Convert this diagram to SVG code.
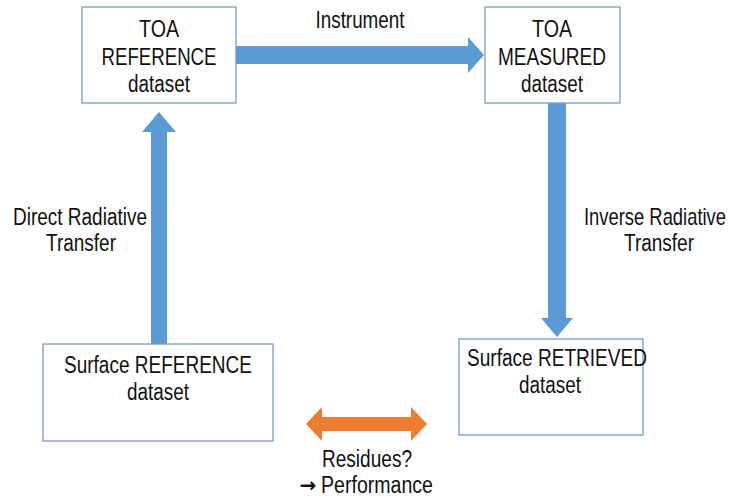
<svg xmlns="http://www.w3.org/2000/svg" width="735" height="498" viewBox="0 0 735 498">
  <style>
    .box { fill: #ffffff; stroke: #7f9cc4; stroke-width: 1.3; }
    .blue { fill: #5b9bd5; }
    .orange { fill: #ed7d31; }
    text { font-family: "Liberation Sans", Arial, sans-serif; font-size: 23px; fill: #111111; text-anchor: middle; }
    .sym { font-family: "DejaVu Sans", sans-serif; font-size: 20px; font-weight: bold; }
  </style>
  <rect width="735" height="498" fill="#ffffff"/>

  <!-- connectors -->
  <g id="connectors">
    <!-- Instrument: TOA reference to TOA measured -->
    <polygon class="blue" points="236,46 468,46 468,37 484,55 468,73 468,64 236,64"/>
    <!-- Direct radiative transfer: surface reference up to TOA reference -->
    <polygon class="blue" points="151,344 151,132 142,132 159,112 176,132 167,132 167,344"/>
    <!-- Inverse radiative transfer: TOA measured down to surface retrieved -->
    <polygon class="blue" points="548,103 548,318 541,318 557,337 573,318 566,318 566,103"/>
    <!-- Residues double arrow -->
    <polygon class="orange" points="306,424 322,407 322,417 411,417 411,407 427,424 411,441 411,431 322,431 322,441"/>
  </g>

  <g id="toa-reference">
    <rect class="box" x="82" y="7" width="154" height="96"/>
    <text x="159" y="37" textLength="40" lengthAdjust="spacingAndGlyphs">TOA</text>
    <text x="159" y="65" textLength="115" lengthAdjust="spacingAndGlyphs">REFERENCE</text>
    <text x="159" y="92" textLength="62" lengthAdjust="spacingAndGlyphs">dataset</text>
  </g>

  <g id="toa-measured">
    <rect class="box" x="485" y="7" width="135" height="96"/>
    <text x="552" y="37" textLength="40" lengthAdjust="spacingAndGlyphs">TOA</text>
    <text x="552" y="65" textLength="108" lengthAdjust="spacingAndGlyphs">MEASURED</text>
    <text x="552" y="92" textLength="62" lengthAdjust="spacingAndGlyphs">dataset</text>
  </g>

  <g id="surface-reference">
    <rect class="box" x="43" y="344" width="230" height="97"/>
    <text x="158" y="373" textLength="188" lengthAdjust="spacingAndGlyphs">Surface REFERENCE</text>
    <text x="158" y="400" textLength="62" lengthAdjust="spacingAndGlyphs">dataset</text>
  </g>

  <g id="surface-retrieved">
    <rect class="box" x="459" y="339" width="184" height="96"/>
    <text x="557" y="366" textLength="180" lengthAdjust="spacingAndGlyphs">Surface RETRIEVED</text>
    <text x="550" y="393" textLength="62" lengthAdjust="spacingAndGlyphs">dataset</text>
  </g>

  <g id="labels">
    <text x="360" y="28" textLength="89" lengthAdjust="spacingAndGlyphs">Instrument</text>
    <text x="80" y="225" textLength="134" lengthAdjust="spacingAndGlyphs">Direct Radiative</text>
    <text x="81" y="251" textLength="70" lengthAdjust="spacingAndGlyphs">Transfer</text>
    <text transform="translate(655,225) scale(0.8,1)">Inverse Radiative</text>
    <text x="659" y="251" textLength="70" lengthAdjust="spacingAndGlyphs">Transfer</text>
    <text x="367" y="467" textLength="90" lengthAdjust="spacingAndGlyphs">Residues?</text>
    <text class="sym" x="308" y="492">→</text>
    <text x="377" y="493" textLength="112" lengthAdjust="spacingAndGlyphs">Performance</text>
  </g>
</svg>
